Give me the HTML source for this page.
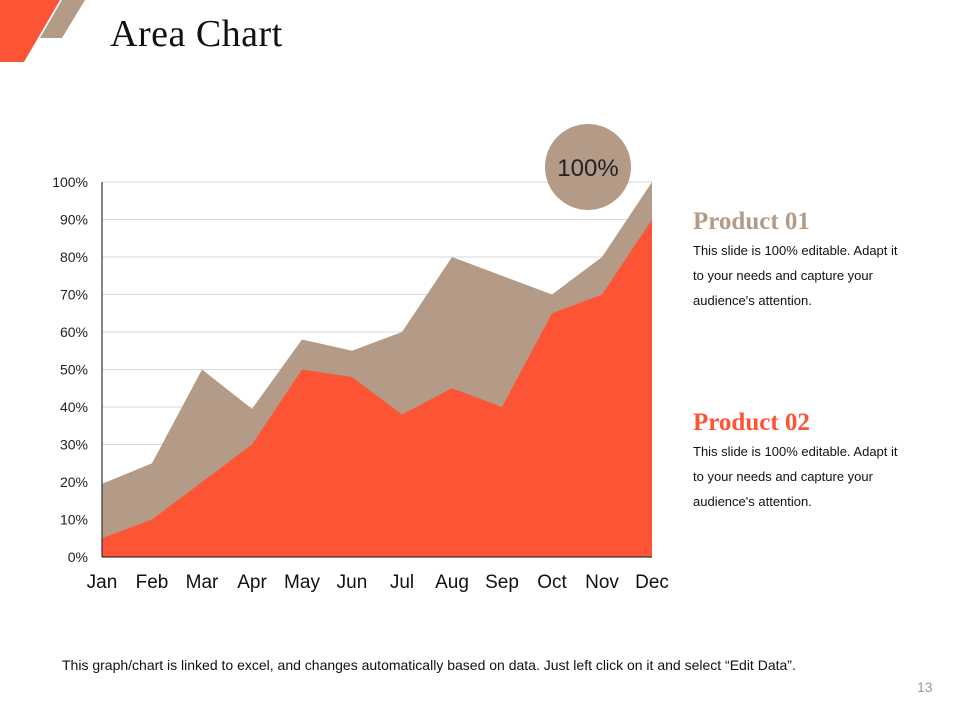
<!DOCTYPE html>
<html><head><meta charset="utf-8"><style>
body{margin:0;width:960px;height:720px;background:#fff;position:relative;overflow:hidden;font-family:"Liberation Sans",sans-serif}
.abs{position:absolute}
.title{left:110px;top:12px;font-family:"Liberation Serif",serif;font-size:38px;color:#111;letter-spacing:0.5px}
.ph{font-family:"Liberation Serif",serif;font-weight:bold;font-size:25px}
.desc{font-size:13px;line-height:25px;color:#111;width:208px}
</style></head><body>
<svg class="abs" style="left:0;top:0" width="100" height="65">
<polygon points="0,0 60,0 24,62 0,62" fill="#fe5436"/>
<polygon points="62,0 85,0 62,38 40,38" fill="#b39b87"/>
</svg>
<div class="abs title">Area Chart</div>
<svg id="chart" class="abs" style="left:0;top:0" width="960" height="720"></svg>
<div class="abs ph" style="left:693px;top:208px;color:#b39b87">Product 01</div>
<div class="abs desc" style="left:693px;top:238px">This slide is 100% editable. Adapt it to your needs and capture your audience's attention.</div>
<div class="abs ph" style="left:693px;top:409px;color:#fe5436">Product 02</div>
<div class="abs desc" style="left:693px;top:439px">This slide is 100% editable. Adapt it to your needs and capture your audience's attention.</div>
<div class="abs" style="left:62px;top:657px;font-size:14px;color:#111">This graph/chart is linked to excel, and changes automatically based on data. Just left click on it and select “Edit Data”.</div>
<div class="abs" style="left:917px;top:679px;font-size:14px;color:#999">13</div>
<script>
const months=["Jan","Feb","Mar","Apr","May","Jun","Jul","Aug","Sep","Oct","Nov","Dec"];
const product01=[19.5,25,50,39.5,58,55,60,80,75,70,80,100];
const product02=[5,10,20,30,50,48,38,45,40,65,70,90];
const yTicks=[0,10,20,30,40,50,60,70,80,90,100];
const NS="http://www.w3.org/2000/svg";
const svg=document.getElementById('chart');
const x0=102,x1=652,yb=557,yt=182;
const X=i=>x0+i*(x1-x0)/(months.length-1);
const Y=v=>yb-(v/100)*(yb-yt);
function mk(t,a){const e=document.createElementNS(NS,t);for(const k in a)e.setAttribute(k,a[k]);svg.appendChild(e);return e;}
yTicks.forEach(v=>{
 if(v>0){const g=mk('line',{x1:x0,x2:x1,y1:Y(v),y2:Y(v),stroke:'#d9d9d9','stroke-width':1});
 
 }
 const t=mk('text',{x:88,y:Y(v)+5,'text-anchor':'end','font-size':14,fill:'#222','font-family':'Liberation Sans'});
 t.textContent=v+'%';
 
 
});
function area(vals,fill,name){
 let d='M'+X(0)+','+yb;vals.forEach((v,i)=>d+=' L'+X(i)+','+Y(v));d+=' L'+X(vals.length-1)+','+yb+'Z';
 const p=mk('path',{d:d,fill:fill});
 
 
}
area(product01,'#b39b87','product-01-area');
area(product02,'#fe5436','product-02-area');
const ax=mk('line',{x1:x0,x2:x0,y1:yt,y2:yb,stroke:'#333','stroke-width':1.2});


const bx=mk('line',{x1:x0,x2:x1,y1:yb,y2:yb,stroke:'#333','stroke-width':1.2});


months.forEach((m,i)=>{
 const t=mk('text',{x:X(i),y:588,'text-anchor':'middle','font-size':19,fill:'#111','font-family':'Liberation Sans'});
 t.textContent=m;
 
 
});
const c=mk('circle',{cx:588,cy:167,r:43,fill:'#b39b87'});


const ct=mk('text',{x:588,y:176,'text-anchor':'middle','font-size':24,fill:'#222','font-family':'Liberation Sans'});
ct.textContent='100%';


</script>
</body></html>
